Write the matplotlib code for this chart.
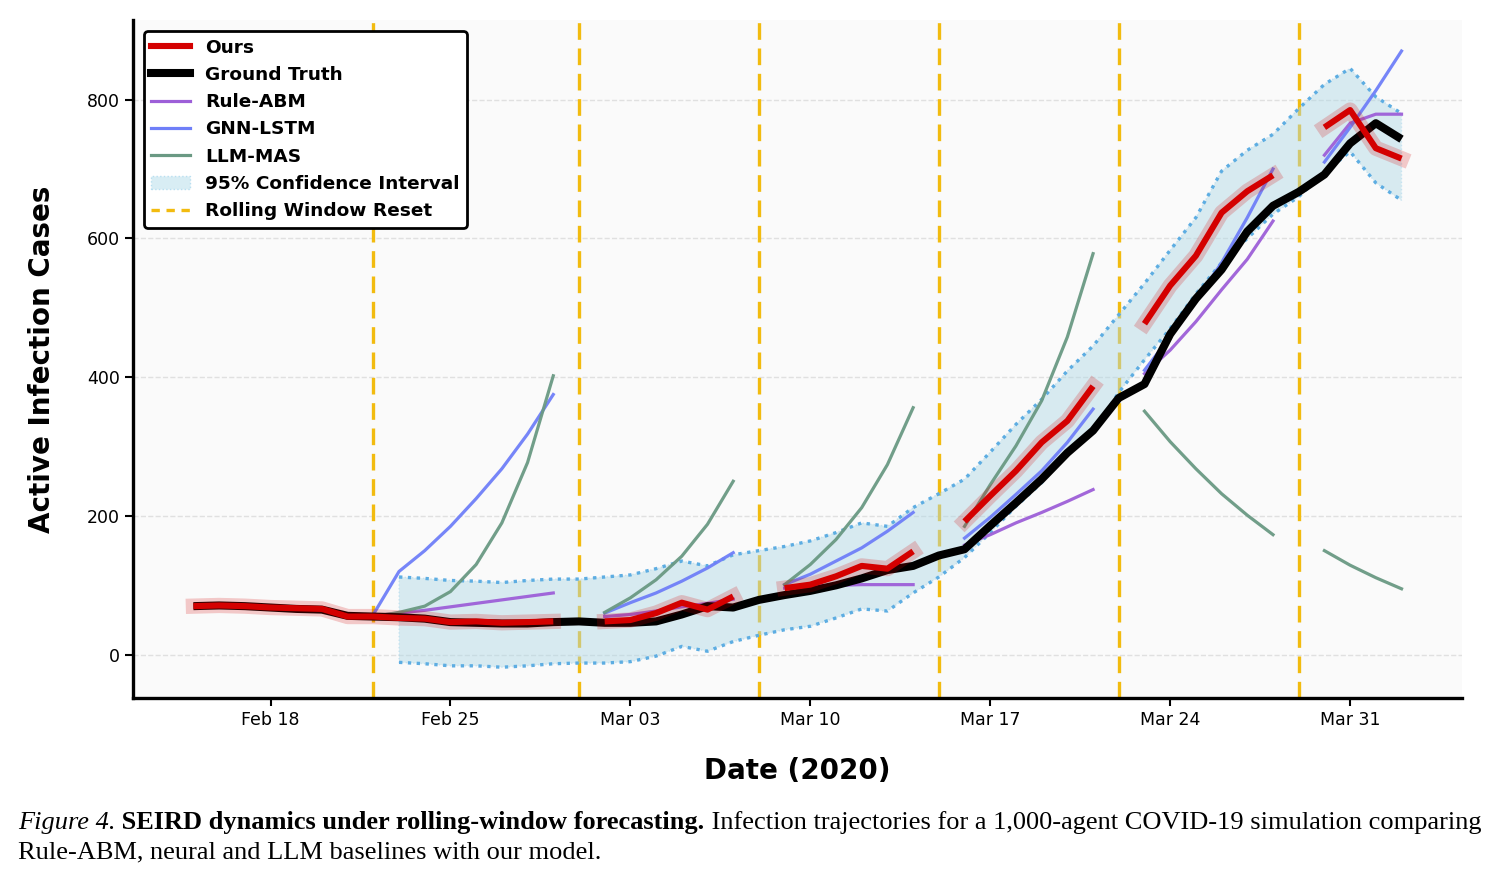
import numpy as np
import pandas as pd
import matplotlib
matplotlib.use("Agg")
import matplotlib.pyplot as plt
import matplotlib.dates as mdates
from matplotlib.lines import Line2D
from matplotlib.patches import Patch

# ---- data ----
dates = pd.date_range("2020-02-15", "2020-04-02")

ground_truth = [70, 71, 70, 68, 66, 65, 56, 55, 54, 52, 47, 46, 45, 45, 47,
                48, 46, 46, 48, 58, 70, 68, 79, 86, 92, 100, 110, 122, 128, 143,
                152, 186, 219, 253, 291, 323, 370, 390, 462, 513, 555, 610, 647,
                667, 692, 737, 766, 743]

# forecast windows (start date, values)
ours = [("2020-02-15", [70, 71, 70, 68, 67, 66, 55, 55, 53, 52, 47, 48, 46, 47, 48]),
        ("2020-03-02", [48, 50, 60, 75, 65, 84]),
        ("2020-03-09", [96, 101, 113, 128, 124, 149]),
        ("2020-03-16", [192, 229, 265, 306, 337, 387]),
        ("2020-03-23", [477, 532, 575, 637, 668, 691]),
        ("2020-03-30", [760, 785, 730, 715])]

rule_abm = [("2020-02-22", [56, 60, 64, 69, 74, 79, 84, 89]),
            ("2020-03-02", [55, 58, 63, 69, 74, 80]),
            ("2020-03-09", [96, 99, 100, 101, 101, 101]),
            ("2020-03-16", [158, 173, 190, 205, 221, 238]),
            ("2020-03-23", [405, 439, 480, 526, 570, 625]),
            ("2020-03-30", [720, 766, 779, 779])]

gnn_lstm = [("2020-02-22", [58, 120, 150, 185, 225, 268, 318, 375]),
            ("2020-03-02", [60, 75, 89, 106, 125, 147]),
            ("2020-03-09", [101, 116, 135, 154, 178, 205]),
            ("2020-03-16", [168, 198, 231, 265, 306, 354]),
            ("2020-03-23", [410, 458, 510, 565, 630, 700]),
            ("2020-03-30", [710, 760, 813, 870])]

llm_mas = [("2020-02-22", [55, 61, 70, 91, 130, 190, 277, 402]),
           ("2020-03-02", [61, 82, 108, 142, 188, 250]),
           ("2020-03-09", [101, 130, 166, 212, 274, 356]),
           ("2020-03-16", [185, 245, 301, 366, 458, 578]),
           ("2020-03-23", [351, 307, 268, 232, 201, 173]),
           ("2020-03-30", [150, 129, 111, 95])]

ci_dates = pd.date_range("2020-02-23", "2020-04-02")
ci_upper = [112, 110, 107, 106, 104, 107, 109, 109, 112, 115, 124, 135, 128, 144,
            150, 156, 164, 176, 190, 185, 212, 232, 253, 292, 332, 368, 409, 445,
            490, 535, 583, 630, 697, 727, 750, 787, 822, 845, 804, 780]
ci_lower = [-11, -13, -16, -16, -18, -16, -13, -12, -12, -10, -2, 12, 5, 19,
            28, 36, 41, 53, 66, 63, 89, 112, 140, 176, 214, 248, 291, 321,
            378, 425, 470, 520, 565, 600, 635, 660, 695, 725, 680, 655]

resets = pd.to_datetime(["2020-02-22", "2020-03-01", "2020-03-08",
                         "2020-03-15", "2020-03-22", "2020-03-29"])

# ---- style ----
RED = "#d40000"
PURPLE = "#9d5fd8"
BLUE = "#6f7ff8"
GREEN = "#6a9983"
GOLD = "#f2bb0f"

fig = plt.figure(figsize=(14.91, 8.8), dpi=100)
ax = fig.add_axes([0.0892, 0.2068, 0.8913, 0.7702])
ax.set_facecolor("#fafafa")

for d in resets:
    ax.axvline(d, color=GOLD, lw=2.4, ls=(0, (5, 2.6)), zorder=1)

ax.fill_between(ci_dates, ci_lower, ci_upper, color="#add8e6", alpha=0.45,
                edgecolor="#9fd0ea", linestyle=":", lw=1, zorder=2)
ax.plot(ci_dates, ci_upper, color="#5dade2", ls=":", lw=2.4, zorder=3)
ax.plot(ci_dates, ci_lower, color="#5dade2", ls=":", lw=2.4, zorder=3)


def draw(windows, **kw):
    for start, vals in windows:
        x = pd.date_range(start, periods=len(vals))
        ax.plot(x, vals, **kw)


draw(rule_abm, color=PURPLE, lw=2.3, alpha=0.95, zorder=4)
draw(gnn_lstm, color=BLUE, lw=2.3, alpha=0.95, zorder=4)
draw(llm_mas, color=GREEN, lw=2.3, alpha=0.95, zorder=4)

ax.plot(dates, ground_truth, color="black", lw=5.8, solid_capstyle="butt", zorder=5)

draw(ours, color=RED, lw=11, alpha=0.2, solid_capstyle="projecting", zorder=6)
draw(ours, color=RED, lw=4.4, solid_capstyle="butt", zorder=7)

# axes cosmetics
ax.grid(axis="y", ls="--", color="#e0e0e0", lw=1)
ax.set_axisbelow(True)
for s in ["top", "right"]:
    ax.spines[s].set_visible(False)
for s in ["left", "bottom"]:
    ax.spines[s].set_linewidth(2.4)

ax.set_xticks(pd.date_range("2020-02-18", "2020-03-31", freq="7D"))
ax.xaxis.set_major_formatter(mdates.DateFormatter("%b %d"))
ax.set_yticks([0, 200, 400, 600, 800])
ax.tick_params(labelsize=12.5, width=1.5, length=6)

ax.set_xlabel("Date (2020)", fontsize=20, fontweight="bold", labelpad=20)
ax.set_ylabel("Active Infection Cases", fontsize=20, fontweight="bold", labelpad=22)

handles = [
    Line2D([], [], color=RED, lw=4.4),
    Line2D([], [], color="black", lw=5.8),
    Line2D([], [], color=PURPLE, lw=2.3),
    Line2D([], [], color=BLUE, lw=2.3),
    Line2D([], [], color=GREEN, lw=2.3),
    Patch(facecolor="#d8edf4", edgecolor="#b8dff0", linestyle=":"),
    Line2D([], [], color=GOLD, lw=2.4, ls=(0, (2.5, 2))),
]
labels = ["Ours", "Ground Truth", "Rule-ABM", "GNN-LSTM", "LLM-MAS",
          "95% Confidence Interval", "Rolling Window Reset"]
leg = ax.legend(handles, labels, loc="upper left", prop={"weight": "bold", "size": 13.3},
                handlelength=2.1, frameon=True, framealpha=1, edgecolor="black",
                borderaxespad=0.6)
leg.get_frame().set_linewidth(2)

# caption
cap_font = "Liberation Serif"
t1 = fig.text(0.012, 0.058, "Figure 4.", fontsize=19, style="italic",
              family=cap_font, va="baseline")
t2 = ax.annotate(" SEIRD dynamics under rolling-window forecasting.", xy=(1, 0),
                 xycoords=t1, fontsize=19, fontweight="bold", family=cap_font,
                 va="bottom", annotation_clip=False)
t3 = ax.annotate(" Infection trajectories for a 1,000-agent COVID-19 simulation comparing",
                 xy=(1, 0), xycoords=t2, fontsize=19, family=cap_font,
                 va="bottom", annotation_clip=False)
fig.text(0.012, 0.024, "Rule-ABM, neural and LLM baselines with our model.",
         fontsize=19, family=cap_font, va="baseline")

fig.savefig("out.png", dpi=100)
